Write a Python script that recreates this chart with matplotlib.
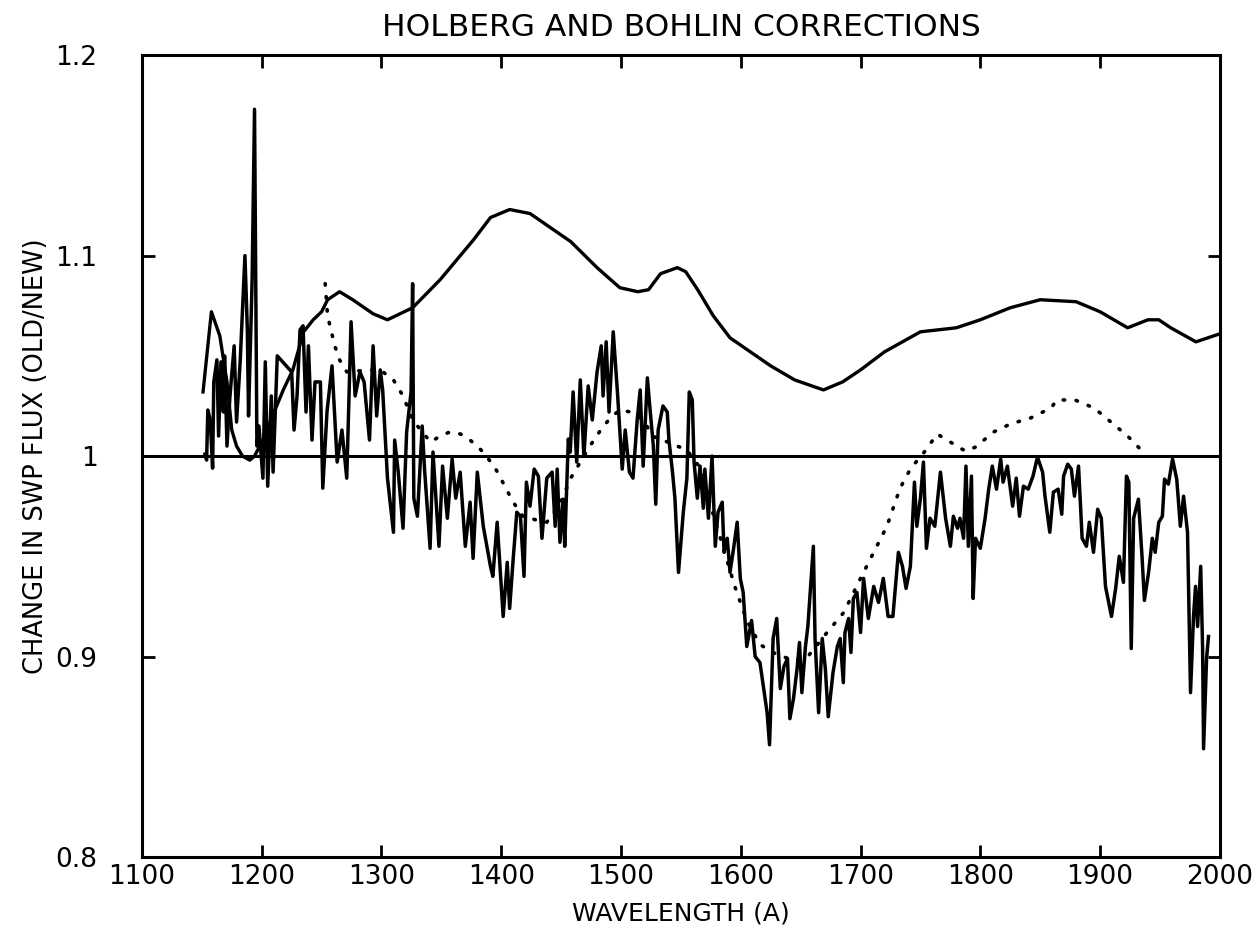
import matplotlib
matplotlib.use("Agg")
import matplotlib.pyplot as plt

plt.rcParams['font.family'] = ['DejaVu Sans']

# smooth correction curve
smooth_wave = [1151, 1158, 1165, 1171, 1175, 1179, 1184, 1190, 1194, 1201, 1209, 1218,
               1226, 1235, 1243, 1250, 1255, 1265, 1276, 1293, 1305, 1326, 1349, 1377,
               1391, 1407, 1424, 1441, 1458, 1480, 1499, 1514, 1523, 1533, 1547, 1554,
               1564, 1577, 1591, 1608, 1625, 1645, 1669, 1685, 1700, 1720, 1750, 1780,
               1800, 1825, 1850, 1880, 1900, 1923, 1940, 1949, 1959, 1980, 2000]
smooth_ratio = [1.032, 1.072, 1.060, 1.037, 1.013, 1.005, 1.000, 0.998, 1.000, 1.008, 1.020, 1.033,
                1.043, 1.062, 1.068, 1.072, 1.078, 1.082, 1.078, 1.071, 1.068, 1.074, 1.088, 1.108,
                1.119, 1.123, 1.121, 1.114, 1.107, 1.094, 1.084, 1.082, 1.083, 1.091, 1.094, 1.092,
                1.083, 1.070, 1.059, 1.052, 1.045, 1.038, 1.033, 1.037, 1.043, 1.052, 1.062, 1.064,
                1.068, 1.074, 1.078, 1.077, 1.072, 1.064, 1.068, 1.068, 1.064, 1.057, 1.061]

# dotted correction curve
dot_wave = [1253, 1255, 1261, 1265, 1271, 1290, 1299, 1310, 1318, 1326, 1341, 1349,
            1357, 1366, 1374, 1385, 1395, 1403, 1410, 1418, 1430, 1438, 1449, 1458,
            1463, 1466, 1474, 1483, 1491, 1499, 1508, 1519, 1526, 1539, 1547, 1555,
            1565, 1575, 1585, 1595, 1605, 1616, 1630, 1645, 1656, 1672, 1686, 1700,
            1711, 1722, 1733, 1742, 1752, 1764, 1775, 1783, 1788, 1796, 1811, 1825,
            1842, 1859, 1864, 1879, 1895, 1909, 1923, 1936]
dot_ratio = [1.086, 1.070, 1.055, 1.048, 1.042, 1.043, 1.043, 1.038, 1.030, 1.018, 1.007, 1.010,
             1.012, 1.011, 1.008, 1.002, 0.994, 0.985, 0.977, 0.970, 0.968, 0.967, 0.976, 0.989,
             0.994, 0.997, 1.005, 1.013, 1.019, 1.023, 1.022, 1.018, 1.010, 1.007, 1.005, 1.003,
             0.995, 0.975, 0.955, 0.935, 0.918, 0.906, 0.901, 0.898, 0.900, 0.912, 0.922, 0.939,
             0.952, 0.965, 0.984, 0.994, 1.001, 1.011, 1.007, 1.004, 1.0025, 1.0045, 1.012, 1.016,
             1.019, 1.024, 1.028, 1.028, 1.024, 1.017, 1.010, 1.002]

# measured flux ratio
ratio_wave = [1152.6, 1154, 1155, 1157, 1159, 1160, 1162.6, 1164, 1166, 1168, 1169, 1171,
              1173.5, 1177, 1179, 1182, 1186, 1188, 1189, 1192, 1194, 1196, 1197.7, 1201,
              1203, 1205, 1208, 1209.5, 1213, 1225, 1227, 1229.5, 1232, 1234.5, 1237, 1239,
              1242, 1244.5, 1249, 1251, 1254.5, 1258.7, 1263, 1267, 1271, 1274.6, 1278, 1282,
              1285.5, 1290, 1293, 1296, 1299, 1301, 1305, 1310, 1311, 1314, 1318, 1321,
              1324.7, 1326, 1327, 1330, 1334, 1336, 1340.6, 1343, 1348, 1351, 1355, 1359,
              1362, 1365.7, 1370, 1374, 1376.5, 1380, 1385, 1391, 1393, 1396.6, 1401.6, 1405,
              1407, 1410, 1413, 1416, 1419, 1421, 1424, 1427.5, 1431, 1434, 1438, 1442.5,
              1445, 1446.7, 1449, 1451.7, 1453, 1456, 1457.6, 1460, 1463, 1466, 1469, 1472.6,
              1476, 1480, 1483.5, 1485, 1487.6, 1490, 1493.5, 1497, 1501, 1503.5, 1507, 1510,
              1513.5, 1516, 1518.5, 1522, 1524, 1527, 1529, 1531, 1535, 1538.6, 1540, 1543,
              1545, 1548, 1552, 1555, 1557, 1559.5, 1561, 1563.7, 1566, 1568.7, 1570, 1573,
              1576, 1578.7, 1581, 1584.5, 1586, 1588.7, 1591, 1594, 1597, 1599.6, 1602, 1605,
              1609, 1612, 1616, 1619.6, 1622, 1624, 1627, 1630, 1633, 1636, 1639, 1641,
              1644, 1647, 1649, 1651, 1654, 1656, 1660.6, 1662, 1665, 1668, 1670.6, 1673,
              1677, 1680.6, 1683, 1685.6, 1687, 1690, 1692, 1694, 1697, 1700, 1702.5, 1706.5,
              1711, 1715, 1719, 1723, 1727, 1731.6, 1735, 1738, 1741.6, 1745, 1747, 1750,
              1752.5, 1755, 1758, 1762, 1766.7, 1771, 1775, 1777.5, 1781, 1783, 1786, 1788,
              1790, 1792.6, 1794, 1796, 1800, 1804, 1807, 1810, 1813.5, 1817, 1819, 1822.6,
              1827, 1830, 1832.7, 1836, 1840, 1844, 1847.7, 1852, 1854, 1858, 1861, 1865,
              1868, 1869.5, 1873, 1876, 1878.6, 1882, 1885, 1888.6, 1891, 1894.5, 1898, 1901,
              1904.5, 1909.5, 1913, 1916, 1919.5, 1922, 1924, 1926, 1928, 1932, 1935, 1937,
              1940.5, 1943.6, 1946, 1949, 1952, 1953.8, 1957, 1960.5, 1964, 1967, 1969.7, 1973,
              1975.5, 1978, 1979.7, 1981.4, 1984, 1985.6, 1986.4, 1988.9, 1990.5]
ratio_val = [1.001, 0.998, 1.023, 1.018, 0.994, 1.037, 1.048, 1.010, 1.047, 1.022, 1.050, 1.005,
             1.030, 1.055, 1.017, 1.047, 1.100, 1.063, 1.020, 1.088, 1.173, 1.005, 1.015, 0.989,
             1.047, 0.985, 1.030, 0.992, 1.050, 1.042, 1.013, 1.030, 1.063, 1.065, 1.022, 1.055,
             1.008, 1.037, 1.037, 0.984, 1.022, 1.045, 0.997, 1.013, 0.989, 1.067, 1.030, 1.042,
             1.037, 1.008, 1.055, 1.020, 1.043, 1.033, 0.989, 0.962, 1.008, 0.992, 0.964, 1.012,
             1.032, 1.086, 0.979, 0.970, 1.015, 0.993, 0.954, 1.002, 0.955, 0.995, 0.969, 0.9985,
             0.979, 0.992, 0.955, 0.977, 0.949, 0.992, 0.965, 0.945, 0.940, 0.967, 0.920, 0.947,
             0.924, 0.949, 0.972, 0.970, 0.940, 0.987, 0.975, 0.9935, 0.990, 0.959, 0.989, 0.992,
             0.965, 0.9935, 0.957, 0.9785, 0.955, 1.0085, 1.002, 1.032, 0.997, 1.038, 1.000, 1.035,
             1.018, 1.042, 1.055, 1.030, 1.057, 1.022, 1.062, 1.032, 0.9935, 1.013, 0.992, 0.989,
             1.018, 1.033, 0.995, 1.039, 1.025, 1.005, 0.976, 1.013, 1.025, 1.022, 1.008, 0.992,
             0.979, 0.942, 0.972, 0.989, 1.032, 1.028, 0.997, 0.979, 0.995, 0.974, 0.9935, 0.969,
             1.000, 0.955, 0.972, 0.977, 0.952, 0.959, 0.942, 0.954, 0.967, 0.939, 0.932, 0.905,
             0.918, 0.900, 0.897, 0.882, 0.872, 0.856, 0.909, 0.919, 0.884, 0.895, 0.899, 0.869,
             0.879, 0.894, 0.907, 0.882, 0.905, 0.915, 0.955, 0.909, 0.872, 0.909, 0.894, 0.870,
             0.892, 0.905, 0.909, 0.887, 0.912, 0.919, 0.902, 0.929, 0.932, 0.912, 0.939, 0.919,
             0.935, 0.927, 0.939, 0.920, 0.920, 0.952, 0.945, 0.934, 0.945, 0.987, 0.965, 0.979,
             0.997, 0.954, 0.969, 0.965, 0.992, 0.969, 0.955, 0.970, 0.964, 0.969, 0.959, 0.995,
             0.955, 0.990, 0.929, 0.959, 0.954, 0.969, 0.9835, 0.995, 0.9835, 0.9985, 0.987, 0.995,
             0.975, 0.989, 0.970, 0.985, 0.9835, 0.990, 0.9995, 0.992, 0.980, 0.962, 0.982, 0.9835,
             0.971, 0.990, 0.996, 0.9935, 0.980, 0.995, 0.959, 0.955, 0.967, 0.952, 0.9735, 0.969,
             0.935, 0.920, 0.934, 0.950, 0.937, 0.990, 0.987, 0.904, 0.969, 0.9785, 0.950, 0.928,
             0.942, 0.959, 0.952, 0.967, 0.970, 0.9885, 0.986, 0.9985, 0.9885, 0.965, 0.980, 0.962,
             0.882, 0.920, 0.935, 0.915, 0.945, 0.904, 0.854, 0.899, 0.910]

x_ticks = [1100, 1200, 1300, 1400, 1500, 1600, 1700, 1800, 1900, 2000]
y_ticks = [0.8, 0.9, 1.0, 1.1, 1.2]
y_tick_labels = ['0.8', '0.9', '1', '1.1', '1.2']

fig = plt.figure(figsize=(12.55, 9.35), dpi=100)
ax = fig.add_axes([0.1131, 0.0834, 0.8589, 0.8576])

ax.axhline(1.0, color='black', lw=2.2)
ax.plot(smooth_wave, smooth_ratio, color='black', lw=2.4)
ax.plot(dot_wave, dot_ratio, color='black', lw=2.6, linestyle=(0, (0.4, 3.2)),
        dash_capstyle='round')
ax.plot(ratio_wave, ratio_val, color='black', lw=2.5)

ax.set_xlim(1100, 2000)
ax.set_ylim(0.8, 1.2)
ax.set_xticks(x_ticks)
ax.set_yticks(y_ticks)
ax.set_yticklabels(y_tick_labels)
ax.tick_params(direction='in', length=9, width=2, top=True, right=True,
               labelsize=19)
ax.tick_params(axis='y', pad=32)
ax.tick_params(axis='x', pad=5)
for s in ax.spines.values():
    s.set_linewidth(2.2)

ax.set_title('HOLBERG AND BOHLIN CORRECTIONS', fontsize=22.5, pad=14)
ax.set_xlabel('WAVELENGTH (A)', fontsize=18, labelpad=8)
ax.set_ylabel('CHANGE IN SWP FLUX (OLD/NEW)', fontsize=18.5, labelpad=5)

fig.savefig('out.png', dpi=100)
